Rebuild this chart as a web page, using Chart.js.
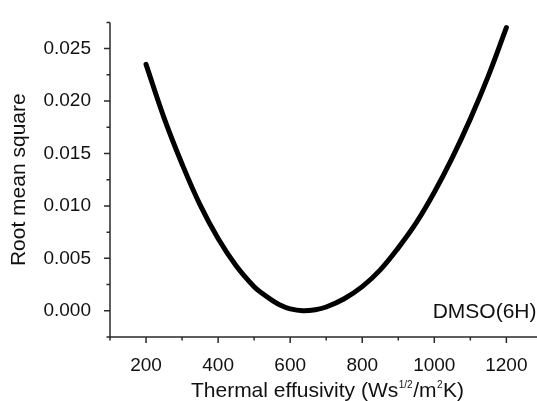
<!DOCTYPE html>
<html>
<head>
<meta charset="utf-8">
<script src="https://cdn.jsdelivr.net/npm/chart.js@4/dist/chart.umd.min.js"></script>
<style>
html,body{margin:0;padding:0;background:#fff;}
#wrap{width:537px;height:401px;position:relative;}
</style>
</head>
<body>
<div id="wrap"><canvas id="c" width="537" height="401"></canvas></div>
<script>
// ---- data ----
const effusivity = [200, 250, 300, 350, 400, 450, 500, 525, 550, 575, 600, 635, 670, 700, 750, 800, 850, 900, 950, 1000, 1050, 1100, 1150, 1200];
const rms = [0.0235, 0.0184, 0.0140, 0.0101, 0.0069, 0.0043, 0.0023, 0.0016, 0.0010, 0.0005, 0.00018, 0.0, 0.0001, 0.00036, 0.00115, 0.0023, 0.0039, 0.0060, 0.0084, 0.0113, 0.0146, 0.0183, 0.0224, 0.0270];
const xMajorTicks = [200, 400, 600, 800, 1000, 1200];
const xMinorTicks = [100, 300, 500, 700, 900, 1100];
const yMajorTicks = [0.000, 0.005, 0.010, 0.015, 0.020, 0.025];
const yMinorTicks = [-0.0025, 0.0025, 0.0075, 0.0125, 0.0175, 0.0225, 0.0275];
const xTitleParts = [["Thermal effusivity (Ws", false], ["1/2", true], ["/m", false], ["2", true], ["K)", false]];
const yTitle = "Root mean square";
const sampleLabel = "DMSO(6H)";

const FONT = "'Liberation Sans', Arial, Helvetica, sans-serif";
const INK = "#111";

const decor = {
  id: 'decor',
  afterDraw(chart) {
    const ctx = chart.ctx;
    const xs = chart.scales.x, ys = chart.scales.y;
    const ca = chart.chartArea;
    ctx.save();
    ctx.strokeStyle = "#2a2a2a";
    ctx.lineWidth = 1.5;
    ctx.lineCap = 'butt';
    ctx.beginPath();
    ctx.moveTo(ca.left, ca.top);
    ctx.lineTo(ca.left, ca.bottom);
    ctx.lineTo(chart.width, ca.bottom);
    ctx.stroke();
    ctx.beginPath();
    yMajorTicks.forEach(v => { const p = ys.getPixelForValue(v); ctx.moveTo(ca.left, p); ctx.lineTo(ca.left - 6, p); });
    yMinorTicks.forEach(v => { const p = ys.getPixelForValue(v); ctx.moveTo(ca.left, p); ctx.lineTo(ca.left - 3.5, p); });
    xMajorTicks.forEach(v => { const p = xs.getPixelForValue(v); ctx.moveTo(p, ca.bottom); ctx.lineTo(p, ca.bottom + 6); });
    xMinorTicks.forEach(v => { const p = xs.getPixelForValue(v); ctx.moveTo(p, ca.bottom); ctx.lineTo(p, ca.bottom + 3.5); });
    ctx.stroke();

    ctx.fillStyle = INK;
    ctx.textBaseline = 'alphabetic';
    ctx.textAlign = 'left';
    const big = "21px " + FONT, small = "10px " + FONT;
    let total = 0;
    xTitleParts.forEach(([t, sup]) => { ctx.font = sup ? small : big; total += ctx.measureText(t).width + (sup ? 1 : 0); });
    const cx = (ca.left + chart.width) / 2 + 4;
    let x = cx - total / 2;
    const base = 396.5;
    xTitleParts.forEach(([t, sup]) => {
      ctx.font = sup ? small : big;
      ctx.fillText(t, x + (sup ? 0.5 : 0), sup ? base - 9 : base);
      x += ctx.measureText(t).width + (sup ? 1 : 0);
    });

    ctx.font = "21px " + FONT;
    ctx.textAlign = 'right';
    ctx.fillText(sampleLabel, chart.width - 0.5, 317.5);
    ctx.restore();
  }
};

new Chart(document.getElementById('c'), {
  type: 'line',
  data: {
    datasets: [{
      data: effusivity.map((e, i) => ({x: e, y: rms[i]})),
      borderColor: '#000',
      borderWidth: 5,
      pointRadius: 0,
      tension: 0.4,
      borderCapStyle: 'round',
      fill: false
    }]
  },
  options: {
    responsive: false,
    animation: false,
    devicePixelRatio: 1,
    layout: {padding: {top: 11, right: 0, left: 0, bottom: 0}},
    plugins: {legend: {display: false}, tooltip: {enabled: false}},
    scales: {
      x: {
        type: 'linear',
        min: 100, max: 1285,
        afterBuildTicks: s => { s.ticks = xMajorTicks.map(v => ({value: v})); },
        afterFit: s => { s.height = 64; },
        grid: {display: false},
        border: {display: false},
        ticks: {
          color: INK, padding: 9, maxRotation: 0, autoSkip: false,
          font: {family: FONT, size: 19},
          callback: v => String(v)
        },
        title: {display: false}
      },
      y: {
        type: 'linear',
        min: -0.0025, max: 0.0275,
        afterBuildTicks: s => { s.ticks = yMajorTicks.map(v => ({value: v})); },
        afterFit: s => { s.width = 110; },
        grid: {display: false},
        border: {display: false},
        ticks: {
          color: INK, padding: 11, autoSkip: false,
          font: {family: FONT, size: 19},
          callback: v => Number(v).toFixed(3)
        },
        title: {
          display: true, text: yTitle, color: INK,
          font: {family: FONT, size: 21},
          padding: {top: 7, bottom: 0}
        }
      }
    }
  },
  plugins: [decor]
});
</script>
</body>
</html>
